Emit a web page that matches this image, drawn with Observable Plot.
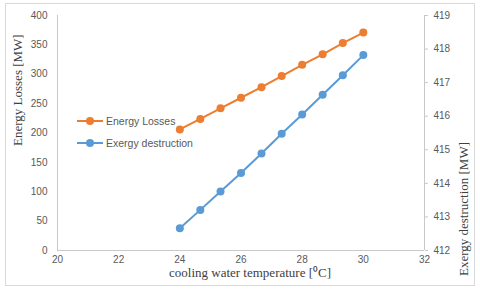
<!DOCTYPE html>
<html>
<head>
<meta charset="utf-8">
<script src="https://cdn.jsdelivr.net/npm/d3@7"></script>
<script src="https://cdn.jsdelivr.net/npm/@observablehq/plot@0.6"></script>
<style>
  body { margin: 0; background: #fff; }
  #wrap { position: relative; width: 480px; height: 293px; }
  #border { position: absolute; left: 5px; top: 3px; width: 468px; height: 281px; border: 1px solid #d9d9d9; pointer-events: none; }
  .legend { position: absolute; left: 77px; font: 10.5px "Liberation Sans", sans-serif; color: #595959; display: flex; align-items: center; }
  .legend svg { margin-right: 3px; }
</style>
</head>
<body>
<div id="wrap"><div id="border"></div></div>
<script>
const temperature = [24, 24.67, 25.33, 26, 26.67, 27.33, 28, 28.67, 29.33, 30];
const energyLosses = [206, 224, 242, 260, 278, 297, 316, 334, 353, 371];
const exergyDestruction = [412.66, 413.21, 413.76, 414.31, 414.89, 415.48, 416.05, 416.64, 417.22, 417.82];
const xTicks = [20, 22, 24, 26, 28, 30, 32];
const leftTicks = [0, 50, 100, 150, 200, 250, 300, 350, 400];
const rightTicks = [412, 413, 414, 415, 416, 417, 418, 419];
const seriesNames = ["Energy Losses", "Exergy destruction"];
const seriesColors = ["#ED7D31", "#5B9BD5"];
const xTitle = "cooling water temperature [\u2070C]";
const leftTitle = "Energy Losses [MW]";
const rightTitle = "Exergy destruction [MW]";

const toLeft = d3.scaleLinear([412, 419], [0, 400]);

const losses = temperature.map((t, i) => ({t, v: energyLosses[i]}));
const exergy = temperature.map((t, i) => ({t, v: toLeft(exergyDestruction[i])}));

const axisColor = "#c9c9c9";
const tickColor = "#595959";
const sans = "Liberation Sans, sans-serif";
const serif = "Liberation Serif, serif";

const chart = Plot.plot({
  width: 480,
  height: 293,
  marginLeft: 57,
  marginRight: 56,
  marginTop: 15,
  marginBottom: 43,
  style: {background: "transparent", overflow: "visible"},
  x: {domain: [20, 32]},
  y: {domain: [0, 400]},
  marks: [
    Plot.ruleX([20], {stroke: axisColor, strokeWidth: 1}),
    Plot.ruleX([32], {stroke: axisColor, strokeWidth: 1}),
    Plot.ruleY([0], {stroke: axisColor, strokeWidth: 1}),
    Plot.axisX(xTicks, {tickSize: 0, tickPadding: 5, label: null, fontSize: 10, fontFamily: sans, fill: tickColor}),
    Plot.axisY(leftTicks, {anchor: "left", tickSize: 0, tickPadding: 10, label: null, fontSize: 10, fontFamily: sans, fill: tickColor}),
    Plot.axisY(rightTicks.map(toLeft), {anchor: "right", tickSize: 3, tickPadding: 6, stroke: axisColor, label: null, fontSize: 10, fontFamily: sans, fill: tickColor, tickFormat: d => d3.format("d")(Math.round(toLeft.invert(d)))}),
    Plot.line(exergy, {x: "t", y: "v", stroke: seriesColors[1], strokeWidth: 2}),
    Plot.dot(exergy, {x: "t", y: "v", r: 4, fill: seriesColors[1]}),
    Plot.line(losses, {x: "t", y: "v", stroke: seriesColors[0], strokeWidth: 2}),
    Plot.dot(losses, {x: "t", y: "v", r: 4, fill: seriesColors[0]}),
    Plot.text([xTitle], {frameAnchor: "bottom", dx: 9, dy: 26, fontFamily: serif, fontSize: 13, fill: "#404040"}),
    Plot.text([leftTitle], {frameAnchor: "left", rotate: -90, dx: -40, dy: 13, fontFamily: serif, fontSize: 13, fill: "#404040"}),
    Plot.text([rightTitle], {frameAnchor: "right", rotate: -90, dx: 39, dy: 9, fontFamily: serif, fontSize: 13, fill: "#404040"})
  ]
});

const wrap = document.getElementById("wrap");
wrap.insertBefore(chart, wrap.firstChild);

const legendTops = [121, 143];
seriesNames.forEach((name, i) => {
  const div = document.createElement("div");
  div.className = "legend";
  div.style.top = (legendTops[i] - 7) + "px";
  div.innerHTML = `<svg width="26" height="14"><line x1="0" x2="26" y1="7" y2="7" stroke="${seriesColors[i]}" stroke-width="2"/><circle cx="13" cy="7" r="4" fill="${seriesColors[i]}"/></svg><span>${name}</span>`;
  wrap.appendChild(div);
});
</script>
</body>
</html>
